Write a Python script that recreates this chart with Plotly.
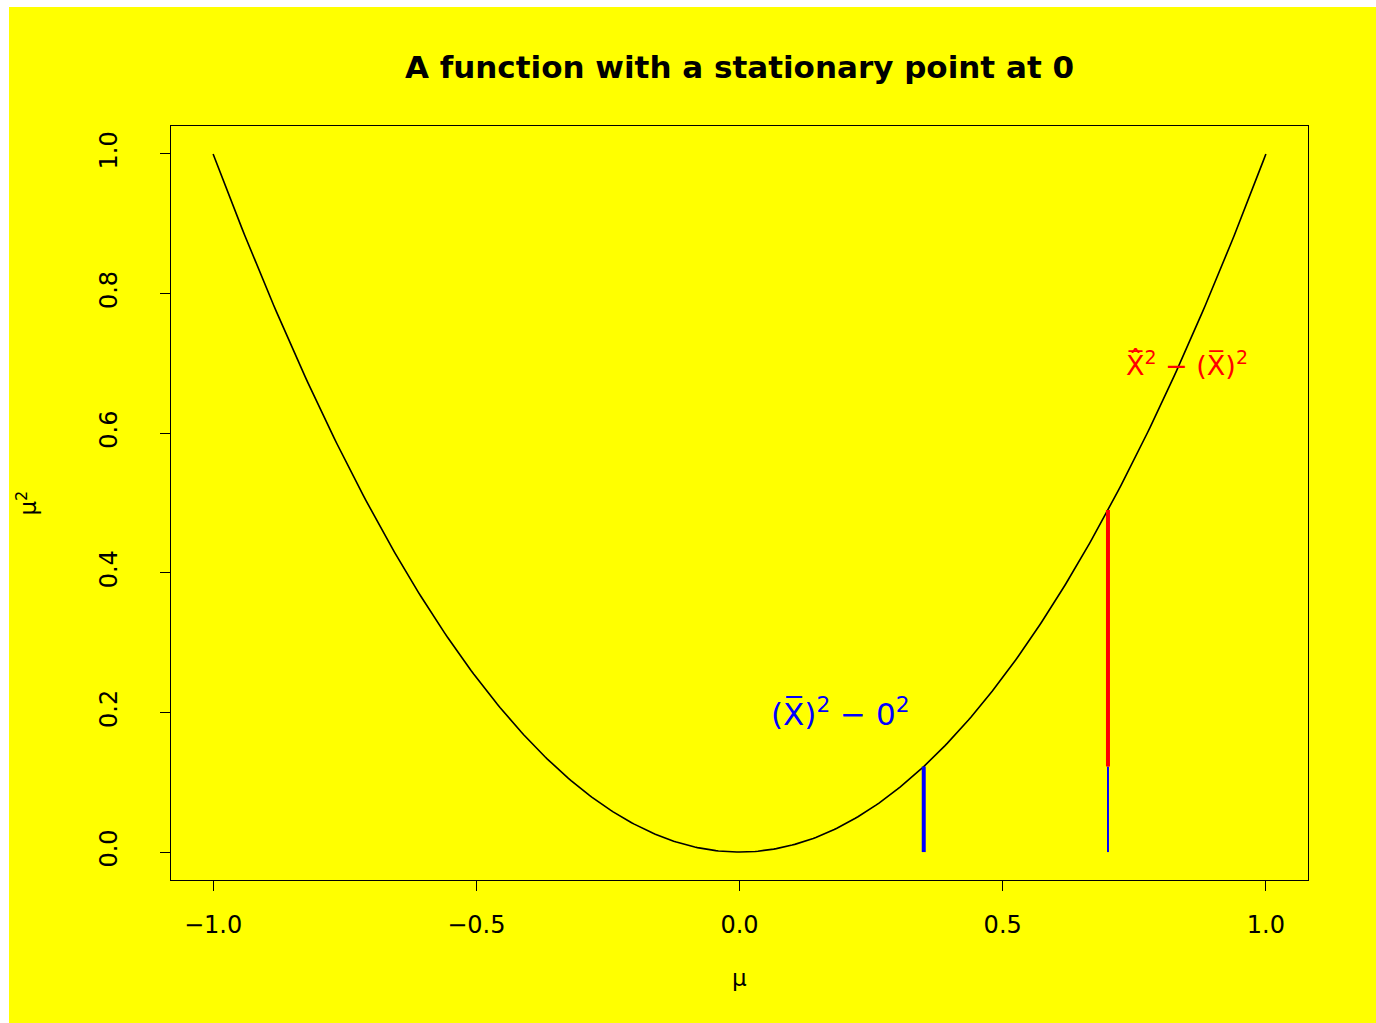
import numpy as np
import plotly.graph_objects as go

# curve: mu^2 over [-1, 1]
mu = np.linspace(-1, 1, 401)
mu_sq = mu ** 2

# sample means marked on the curve
xbar_zero = 0.35      # (Xbar)^2 - 0^2 segment
xbar_hat = 0.70       # Xhat^2 - (Xbar)^2 segment

x_ticks = [-1.0, -0.5, 0.0, 0.5, 1.0]
x_tick_text = ["\u22121.0", "\u22120.5", "0.0", "0.5", "1.0"]
y_ticks = [0.0, 0.2, 0.4, 0.6, 0.8, 1.0]
y_tick_text = ["0.0", "0.2", "0.4", "0.6", "0.8", "1.0"]

blue_label = "(X\u0305)<sup>2</sup> \u2212 0<sup>2</sup>"
red_label = "X\u0305\u0302<sup>2</sup> \u2212 (X\u0305)<sup>2</sup>"
blue_label_pos = (0.19, 0.20)
red_label_pos = (0.85, 0.70)

YELLOW = "#ffff00"
FONT = "DejaVu Sans, Liberation Sans, Arial, sans-serif"

fig = go.Figure()
fig.add_trace(go.Scatter(x=mu, y=mu_sq, mode="lines",
                         line=dict(color="black", width=1.6), hoverinfo="skip"))
# thick blue: from 0 up to the curve at xbar_zero
fig.add_trace(go.Scatter(x=[xbar_zero, xbar_zero], y=[0, xbar_zero ** 2], mode="lines",
                         line=dict(color="blue", width=4)))
# thin blue at xbar_hat from 0 to xbar_zero^2
fig.add_trace(go.Scatter(x=[xbar_hat, xbar_hat], y=[0, xbar_zero ** 2], mode="lines",
                         line=dict(color="blue", width=2)))
# thick red at xbar_hat from xbar_zero^2 up to the curve
fig.add_trace(go.Scatter(x=[xbar_hat, xbar_hat], y=[xbar_zero ** 2, xbar_hat ** 2], mode="lines",
                         line=dict(color="red", width=4)))

fig.add_annotation(x=blue_label_pos[0], y=blue_label_pos[1], text=blue_label,
                   showarrow=False, font=dict(color="blue", size=31, family=FONT))
fig.add_annotation(x=red_label_pos[0], y=red_label_pos[1], text=red_label,
                   showarrow=False, font=dict(color="red", size=27, family=FONT))

# axis titles
fig.add_annotation(xref="paper", yref="paper", x=0.5, y=-0.13, xanchor="center", yanchor="middle",
                   text="\u03bc", showarrow=False, font=dict(size=23, family=FONT, color="black"))
fig.add_annotation(xref="paper", yref="paper", x=-0.127, y=0.5, xanchor="center", yanchor="middle",
                   text="\u03bc<sup>2</sup>", textangle=-90, showarrow=False,
                   font=dict(size=23, family=FONT, color="black"))

# white strips along the left and top edges of the page
W, H = 1376, 1023
ml, mr, mt, mb = 171, 68, 126, 143
pw, ph = W - ml - mr, H - mt - mb
def px_to_paper_x(px):
    return (px - ml) / pw
def px_to_paper_y(py):
    return (H - mb - py) / ph
fig.add_shape(type="rect", xref="paper", yref="paper",
              x0=px_to_paper_x(-2), x1=px_to_paper_x(9), y0=px_to_paper_y(H + 2), y1=px_to_paper_y(-2),
              fillcolor="white", line=dict(width=0), layer="above")
fig.add_shape(type="rect", xref="paper", yref="paper",
              x0=px_to_paper_x(-2), x1=px_to_paper_x(W + 2), y0=px_to_paper_y(7), y1=px_to_paper_y(-2),
              fillcolor="white", line=dict(width=0), layer="above")

axis_common = dict(showline=True, linecolor="black", linewidth=1, mirror=True,
                   ticks="outside", ticklen=10, tickcolor="black", tickwidth=1,
                   showgrid=False, zeroline=False,
                   tickfont=dict(size=24, family=FONT, color="black"))

fig.update_layout(
    width=W, height=H,
    margin=dict(l=ml, r=mr, t=mt, b=mb),
    paper_bgcolor=YELLOW, plot_bgcolor=YELLOW,
    showlegend=False,
    title=dict(text="<b>A function with a stationary point at 0</b>", x=0.5 * (ml + W - mr) / W,
               xanchor="center", y=1 - 67 / H, yanchor="middle",
               font=dict(size=31, family=FONT, color="black")),
    xaxis=dict(range=[-1.08, 1.08], tickvals=x_ticks, ticktext=x_tick_text,
               ticklabelstandoff=13, **axis_common),
    yaxis=dict(range=[-0.04, 1.04], tickvals=y_ticks, ticktext=y_tick_text, tickangle=-90,
               ticklabelstandoff=33, **axis_common),
)

fig.write_html("out.html")
